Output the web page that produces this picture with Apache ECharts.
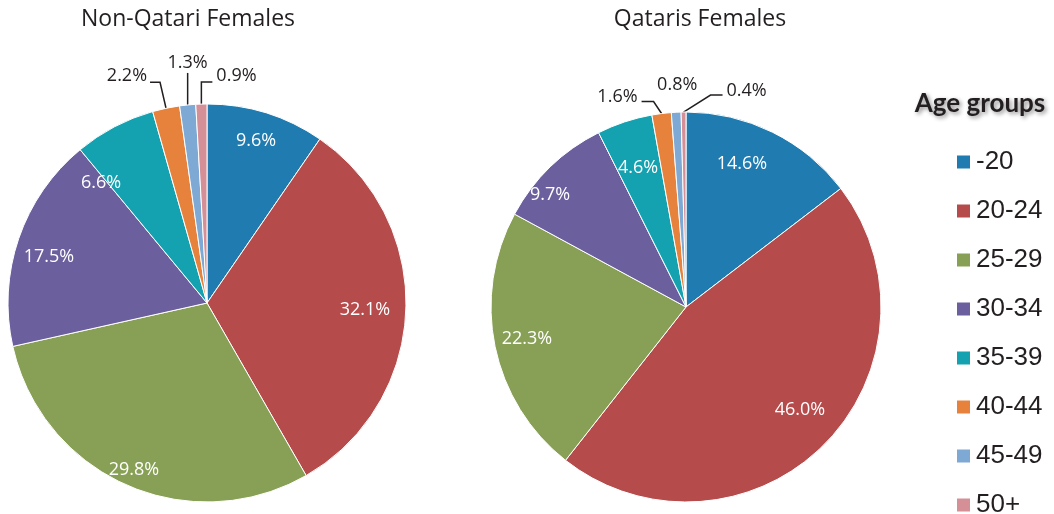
<!DOCTYPE html>
<html>
<head>
<meta charset="utf-8">
<title>Age groups</title>
<script src="https://cdn.jsdelivr.net/npm/echarts@6/dist/echarts.min.js"></script>
<style>
  html, body { margin: 0; padding: 0; background: #fff; }
  #chart { width: 1054px; height: 514px; }
</style>
</head>
<body>
<div id="chart"></div>
<script>
// data (%)
const ageGroups = ['-20', '20-24', '25-29', '30-34', '35-39', '40-44', '45-49', '50+'];
const nonQatariFemales = [9.6, 32.1, 29.8, 17.5, 6.6, 2.2, 1.3, 0.9];
const qatariFemales = [14.6, 46.0, 22.3, 9.7, 4.6, 1.6, 0.8, 0.4];
const pieTitles = ['Non-Qatari Females', 'Qataris Females'];
const legendTitle = 'Age groups';

const colors = ['#1f7bb0', '#b54b4b', '#88a055', '#6b5f9e', '#14a1b0', '#e6823b', '#7ea9d4', '#d48f97'];
const textColor = '#231f20';

// layout of the two pies, px
const pies = [
  {
    values: nonQatariFemales,
    center: [207, 303],
    radius: 199,
    titleX: 188,
    // inside labels: offset of the text from the pie center
    inner: [[49, -162], [158, 7], [-73, 167], [-158, -46], [-106, -120]],
    // small slices: leader line bends and text offset from slice edge
    outer: {
      5: { line: [[-6, -26], [-16, -26]], text: [-19, -32], align: 'right' },
      6: { line: [[0, -32]], text: [0, -42], align: 'center' },
      7: { line: [[0, -22], [11, -22]], text: [15, -28], align: 'left' }
    }
  },
  {
    values: qatariFemales,
    center: [686, 307],
    radius: 195,
    titleX: 700,
    inner: [[56, -143], [114, 103], [-159, 32], [-136, -112], [-48, -139]],
    outer: {
      5: { line: [[-8, -12], [-20, -12]], text: [-24, -17], align: 'right' },
      6: { line: [], text: [1, -27], align: 'center' },
      7: { line: [[27, -17], [39, -17]], text: [43, -21], align: 'left' }
    }
  }
];

function labelLayoutFor(pie) {
  const total = pie.values.reduce((a, b) => a + b, 0);
  return function (params) {
    const i = params.dataIndex;
    const cx = pie.center[0];
    const cy = pie.center[1];
    const out = pie.outer[i];
    if (!out) {
      const off = pie.inner[i];
      return { x: cx + off[0], y: cy + off[1], align: 'center', verticalAlign: 'middle' };
    }
    // edge point in the middle of the slice
    let before = 0;
    for (let j = 0; j < i; j++) before += pie.values[j];
    const mid = (before + pie.values[i] / 2) / total * Math.PI * 2;
    const ex = cx + Math.sin(mid) * pie.radius;
    const ey = cy - Math.cos(mid) * pie.radius;
    const res = { x: ex + out.text[0], y: ey + out.text[1], align: out.align, verticalAlign: 'middle' };
    if (out.line.length) {
      res.labelLinePoints = [[ex, ey]].concat(out.line.map(p => [ex + p[0], ey + p[1]]));
    }
    return res;
  };
}

function pieSeries(pie) {
  return {
    type: 'pie',
    center: pie.center,
    radius: pie.radius,
    startAngle: 90,
    clockwise: true,
    avoidLabelOverlap: false,
    silent: true,
    itemStyle: { borderColor: '#fff', borderWidth: 1 },
    label: {
      fontFamily: 'Open Sans',
      fontSize: 18,
      formatter: p => p.value.toFixed(1) + '%'
    },
    labelLine: {
      lineStyle: { color: textColor, width: 1.5 }
    },
    labelLayout: labelLayoutFor(pie),
    emphasis: { disabled: true },
    data: ageGroups.map((name, i) => {
      const out = pie.outer[i];
      return {
        name: name,
        value: pie.values[i],
        label: out
          ? { position: 'outside', color: textColor }
          : { position: 'inside', color: '#fff' },
        labelLine: { show: !!(out && out.line.length) }
      };
    })
  };
}

const chart = echarts.init(document.getElementById('chart'));
chart.setOption({
  animation: false,
  color: colors,
  title: [
    ...pies.map((pie, k) => ({
      text: pieTitles[k],
      left: pie.titleX - 5,
      top: 14,
      textAlign: 'center',
      textVerticalAlign: 'middle',
      textStyle: { fontFamily: 'Open Sans', fontSize: 23, fontWeight: 'normal', color: textColor }
    })),
    {
      text: legendTitle,
      left: 975,
      top: 99,
      textAlign: 'center',
      textVerticalAlign: 'middle',
      textStyle: {
        fontFamily: 'Lato',
        fontSize: 26,
        fontWeight: 'bold',
        color: textColor,
        textShadowColor: 'rgba(0,0,0,0.45)',
        textShadowBlur: 4,
        textShadowOffsetX: 2,
        textShadowOffsetY: 2
      }
    }
  ],
  legend: {
    orient: 'vertical',
    left: 955,
    top: 149,
    height: 400,
    padding: 0,
    icon: 'rect',
    itemWidth: 15,
    itemHeight: 15,
    itemGap: 23,
    selectedMode: false,
    textStyle: { fontFamily: 'Liberation Sans', fontSize: 26, color: textColor },
    data: ageGroups
  },
  series: pies.map(pieSeries)
});
</script>
</body>
</html>
